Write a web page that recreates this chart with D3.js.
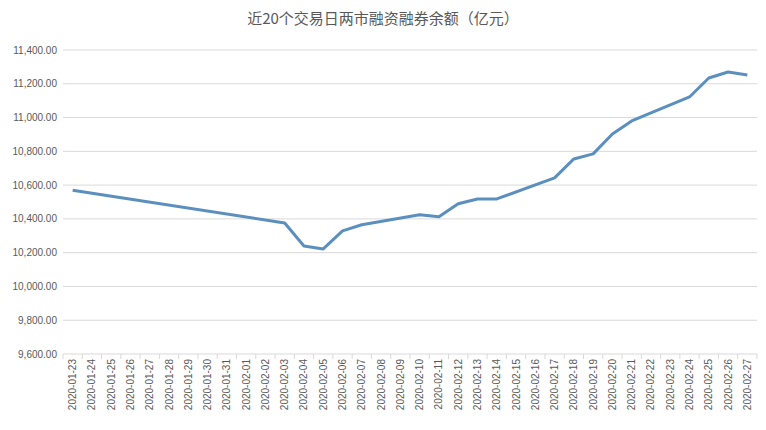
<!DOCTYPE html>
<html><head><meta charset="utf-8">
<script src="https://cdn.jsdelivr.net/npm/d3@7"></script>
<style>body{margin:0;background:#fff;font-family:"Liberation Sans",Arial,sans-serif}</style>
</head><body><svg id="c" width="766" height="430"></svg>
<script>
var title = '近20个交易日两市融资融券余额（亿元）';
// every calendar day on the axis
var days = d3.timeDays(new Date(2020, 0, 23), new Date(2020, 1, 28));
var tradeDates = ['2020-01-23','2020-02-03','2020-02-04','2020-02-05','2020-02-06','2020-02-07',
	'2020-02-10','2020-02-11','2020-02-12','2020-02-13','2020-02-14','2020-02-17','2020-02-18',
	'2020-02-19','2020-02-20','2020-02-21','2020-02-24','2020-02-25','2020-02-26','2020-02-27'];
var balances = [10570, 10376, 10240, 10222, 10329, 10365, 10424, 10412, 10490, 10518, 10518,
	10643, 10755, 10785, 10903, 10980, 11122, 11234, 11270, 11252];
var yTicks = d3.range(9600, 11401, 200);

var margin = {top: 50, right: 9, bottom: 76, left: 63};
var width = 766 - margin.left - margin.right;
var height = 430 - margin.top - margin.bottom;
var fmt = d3.timeFormat('%Y-%m-%d');
var labels = days.map(fmt);

var svg = d3.select('#c');
svg.append('text').attr('x', 383).attr('y', 24).attr('text-anchor', 'middle')
	.attr('fill', '#595959').attr('font-size', 15)
	.attr('font-family', '"Noto Sans CJK SC",sans-serif').text(title);

var g = svg.append('g').attr('transform', 'translate(' + margin.left + ',' + margin.top + ')');
var x = d3.scaleBand().domain(labels).range([0, width]);
var y = d3.scaleLinear().domain([9600, 11400]).range([height, 0]);

// gridlines
g.selectAll('.grid').data(yTicks.slice(1)).enter().append('line')
	.attr('x1', 0).attr('x2', width).attr('y1', y).attr('y2', y)
	.attr('stroke', '#d9d9d9');
g.selectAll('.yl').data(yTicks).enter().append('text')
	.attr('x', -6).attr('y', d => y(d)).attr('dy', '0.35em').attr('text-anchor', 'end')
	.attr('font-size', 10).attr('fill', '#595959').text(d3.format(',.2f'));

// x axis
g.append('line').attr('x1', 0).attr('x2', width).attr('y1', height).attr('y2', height).attr('stroke', '#d9d9d9');
g.selectAll('.tk').data(labels.concat(['end'])).enter().append('line')
	.attr('x1', (d, i) => i * x.step()).attr('x2', (d, i) => i * x.step())
	.attr('y1', height).attr('y2', height + 5).attr('stroke', '#d9d9d9');
g.selectAll('.xl').data(labels).enter().append('text')
	.attr('transform', d => 'translate(' + (x(d) + x.bandwidth() / 2) + ',' + (height + 5) + ') rotate(-90)')
	.attr('dy', '0.35em').attr('text-anchor', 'end')
	.attr('font-size', 10).attr('fill', '#595959').text(d => d);

var pts = tradeDates.map((d, i) => ({d: d, v: balances[i]}));
var line = d3.line().x(p => x(p.d) + x.bandwidth() / 2).y(p => y(p.v));
g.append('path').datum(pts).attr('d', line).attr('fill', 'none')
	.attr('stroke', '#5b8fbe').attr('stroke-width', 3).attr('stroke-linejoin', 'round');
</script></body></html>
